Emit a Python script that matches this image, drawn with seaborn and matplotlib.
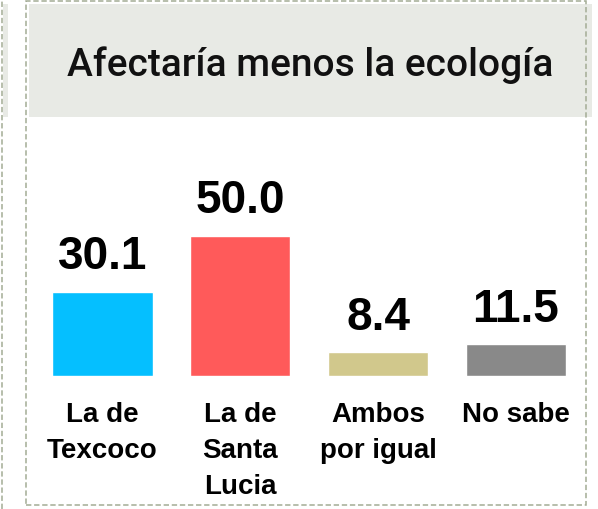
import matplotlib
matplotlib.use("Agg")
import matplotlib.pyplot as plt
from matplotlib.patches import Rectangle
import seaborn as sns
import pandas as pd

# ==========================================
# DATOS
# ==========================================
TITULO = "Afectaría menos la ecología"
CATEGORIAS = ["La de\nTexcoco", "La de\nSanta\nLucia", "Ambos\npor igual", "No sabe"]
VALORES = [30.1, 50.0, 8.4, 11.5]
COLORES = ["#05BFFF", "#FF5A5A", "#D1C88C", "#898989"]

W, H = 598, 509

sns.set_theme(style="white")
plt.rcParams["font.family"] = ["Liberation Sans", "DejaVu Sans"]

df = pd.DataFrame({"cat": CATEGORIAS, "val": VALORES})

fig = plt.figure(figsize=(W / 100, H / 100), dpi=100)


def fx(px):
    return px / W


def fy(py):
    # pixel desde arriba -> fraccion de figura
    return 1 - py / H


# franja de fondo del titulo y restos del panel vecino
fig.patches.append(Rectangle((fx(29), fy(117)), fx(592 - 29), (117 - 4) / H,
                             transform=fig.transFigure, facecolor="#E8EAE5",
                             edgecolor="none", zorder=0))
fig.patches.append(Rectangle((fx(3), fy(117)), fx(5), (117 - 4) / H,
                             transform=fig.transFigure, facecolor="#E8EAE5",
                             edgecolor="none", zorder=0))

# marcos punteados
borde = "#A3AC95"
fig.patches.append(Rectangle((fx(26), fy(505)), fx(586 - 26), (505 - 1) / H,
                             transform=fig.transFigure, facecolor="none",
                             edgecolor=borde, linewidth=1.1, linestyle=(0, (3.5, 1.8)),
                             zorder=1))
fig.lines.append(plt.Line2D([fx(2), fx(2)], [0, 1], transform=fig.transFigure,
                            color=borde, linewidth=1.1, linestyle=(0, (3.5, 1.8))))

fig.text(fx(310), fy(76), TITULO, ha="center", va="baseline",
         fontsize=28, family=["Roboto", "DejaVu Sans"], fontweight="medium",
         color="#111111")

# ==========================================
# GRAFICO DE BARRAS
# ==========================================
escala = 140.3 / 50.0  # px por unidad
ymax = 80
alto_px = ymax * escala
ax = fig.add_axes([fx(33.6), (H - 376) / H, fx(551.2), alto_px / H])
ax.patch.set_alpha(0)

sns.barplot(data=df, x="cat", y="val", hue="cat", palette=COLORES,
            legend=False, width=0.726, saturation=1, ax=ax)

ax.set_ylim(0, ymax)
ax.set_xlim(-0.5, 3.5)
for s in ax.spines.values():
    s.set_visible(False)
ax.set_yticks([])
ax.set_xlabel("")
ax.set_ylabel("")
ax.tick_params(axis="x", length=0, pad=19)
for lbl in ax.get_xticklabels():
    lbl.set_fontsize(20)
    lbl.set_fontweight("bold")
    lbl.set_color("#000000")
    lbl.set_linespacing(1.5)

for i, v in enumerate(VALORES):
    ax.annotate(f"{v:.1f}", (i, v), xytext=(0, 16), textcoords="offset points",
                ha="center", va="baseline", fontsize=33, fontweight="bold",
                color="#000000")

fig.savefig("out.png", dpi=100)
